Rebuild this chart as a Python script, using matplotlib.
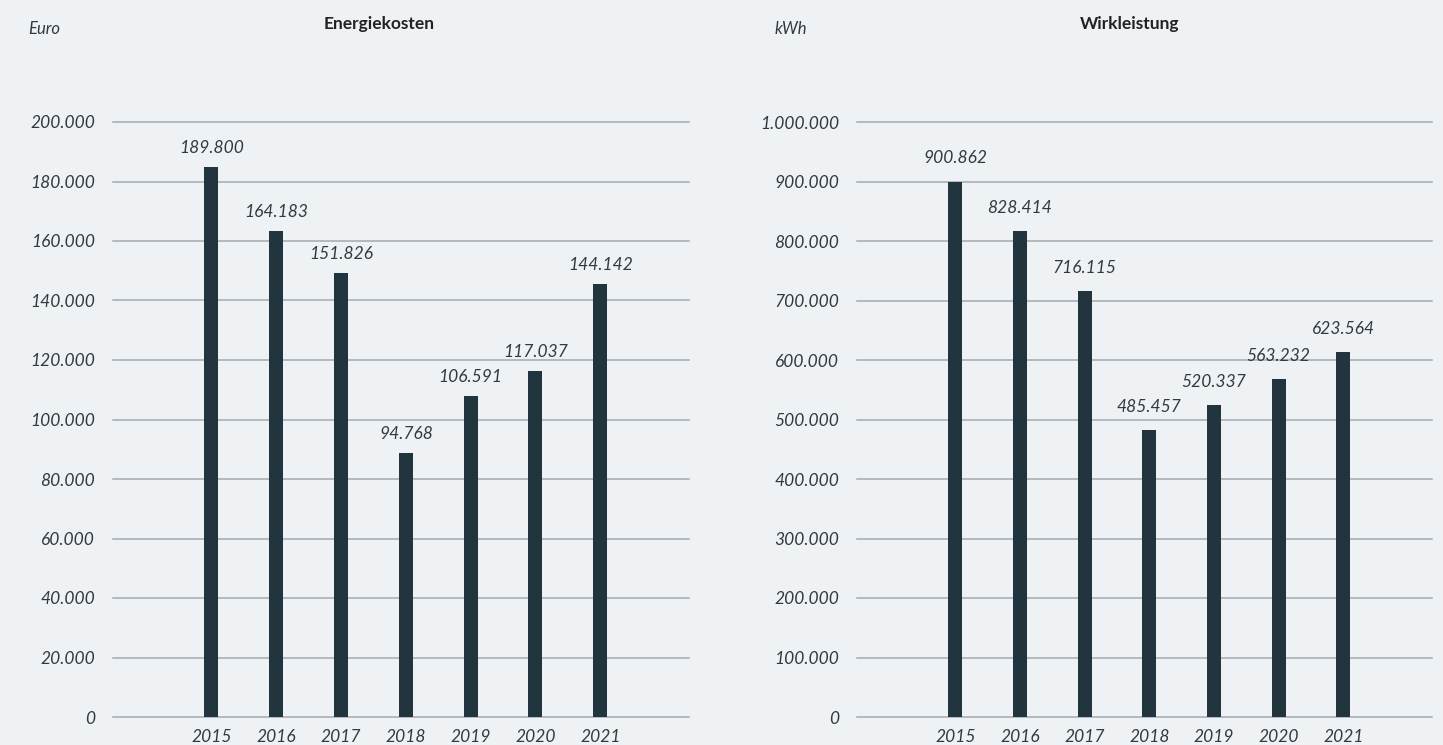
import matplotlib
matplotlib.use('Agg')
import matplotlib.pyplot as plt
from matplotlib.ticker import FuncFormatter, MultipleLocator

years = ["2015", "2016", "2017", "2018", "2019", "2020", "2021"]

# Energiekosten (Euro) - bar heights as drawn, labels as printed
kosten = [184900, 163400, 149200, 88700, 107900, 116300, 145500]
kosten_labels = ["189.800", "164.183", "151.826", "94.768", "106.591", "117.037", "144.142"]

# Wirkleistung (kWh)
leistung = [900000, 816000, 715500, 482000, 524000, 568000, 613000]
leistung_labels = ["900.862", "828.414", "716.115", "485.457", "520.337", "563.232", "623.564"]

BG = "#eef2f5"
BAR = "#22343d"
GRID = "#a3abb0"
TXT = "#333a3e"

plt.rcParams['font.family'] = ['Lato', 'DejaVu Sans']

W, H = 1443, 745
fig = plt.figure(figsize=(W / 100, H / 100), dpi=100, facecolor=BG)


def de_fmt(v, pos=None):
    return f"{v:,.0f}".replace(",", ".")


def make_panel(x0, x1, values, labels, ymax, step, title, unit, title_x, unit_x, pad):
    ax = fig.add_axes([x0 / W, 1 - 717 / H, (x1 - x0) / W, (717 - 122) / H])
    ax.set_facecolor(BG)
    xs = list(range(len(years)))
    bars = ax.bar(xs, values, width=0.216, color=BAR, zorder=3)
    ax.bar_label(bars, labels=labels, padding=pad, fontsize=12.5, style='italic', color=TXT)
    ax.set_xlim(-1.52, 7.37)
    ax.set_ylim(0, ymax)
    ax.yaxis.set_major_locator(MultipleLocator(step))
    ax.yaxis.set_major_formatter(FuncFormatter(de_fmt))
    ax.set_xticks(xs)
    ax.set_xticklabels(years)
    ax.grid(axis='y', color=GRID, linewidth=1.1, zorder=0)
    for gl in ax.get_ygridlines():
        gl.set_clip_on(False)
    for s in ax.spines.values():
        s.set_visible(False)
    ax.tick_params(length=0, labelsize=12.5, colors=TXT)
    ax.tick_params(axis='y', pad=13)
    ax.tick_params(axis='x', pad=9)
    for t in ax.get_xticklabels() + ax.get_yticklabels():
        t.set_style('italic')
    fig.text(title_x / W, 1 - 24 / H, title, ha='center', va='center',
             fontsize=12.5, fontweight='bold', color="#222222")
    fig.text(unit_x / W, 1 - 29 / H, unit, ha='left', va='center',
             fontsize=12, style='italic', color=TXT)
    return ax


make_panel(113, 689, kosten, kosten_labels, 200000, 20000,
           "Energiekosten", "Euro", 379, 28, 8)
make_panel(857, 1432, leistung, leistung_labels, 1000000, 100000,
           "Wirkleistung", "kWh", 1130, 775, 11)

fig.savefig("out.png", dpi=100, facecolor=BG)
